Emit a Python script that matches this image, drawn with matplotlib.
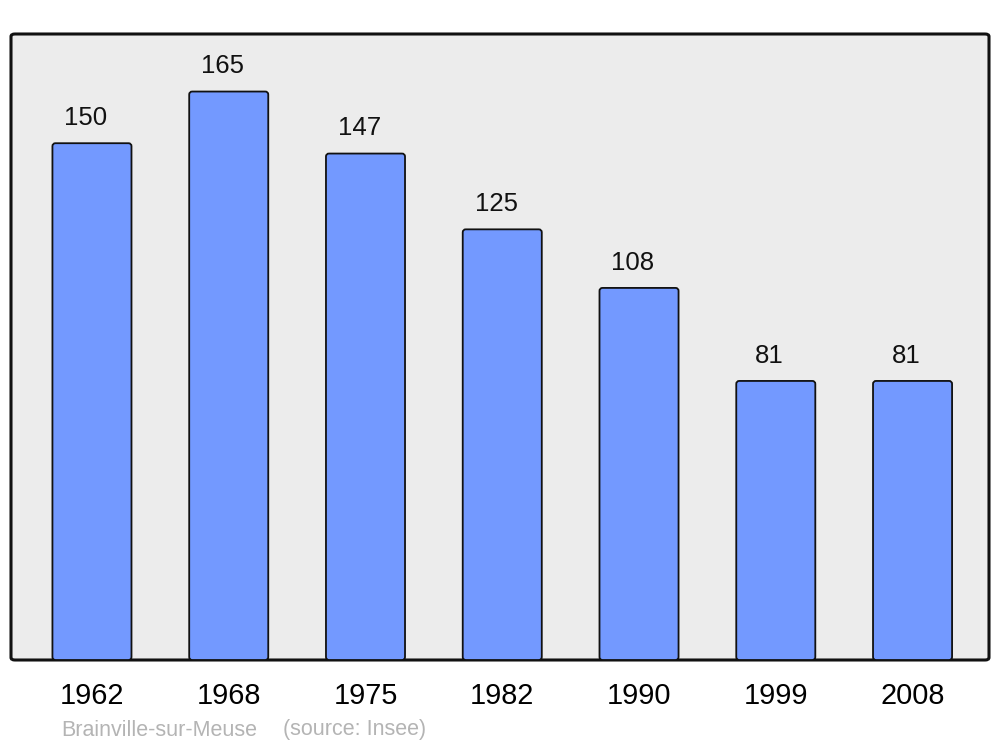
import matplotlib.pyplot as plt
from matplotlib.patches import FancyBboxPatch
import numpy as np

plt.rcParams['font.family'] = ['Liberation Sans', 'DejaVu Sans']

years = ["1962", "1968", "1975", "1982", "1990", "1999", "2008"]
population = [150, 165, 147, 125, 108, 81, 81]

fig = plt.figure(figsize=(10, 7.47), dpi=100)
ax = fig.add_axes([0.011, 87 / 747, 0.978, 626 / 747])
ax.set_facecolor('none')

# rounded grey frame
frame = FancyBboxPatch((0, 0), 1, 1, boxstyle="round,pad=0,rounding_size=0.004",
                       transform=ax.transAxes, facecolor='#ececec',
                       edgecolor='#111111', linewidth=2.2, zorder=0, clip_on=False)
ax.add_patch(frame)

x = np.arange(len(years))
bars = ax.bar(x, population, width=0.578, color='#7399ff', edgecolor='#111111',
              linewidth=1.3, zorder=2)

# swap the plain rectangles for slightly rounded ones
for b in bars:
    rb = FancyBboxPatch((b.get_x(), b.get_y()), b.get_width(), b.get_height(),
                        boxstyle="round,pad=0,rounding_size=0.022",
                        mutation_aspect=39.7, facecolor='#7399ff',
                        edgecolor='#111111', linewidth=1.3, zorder=2)
    ax.add_patch(rb)
    b.set_visible(False)

for xi, v in zip(x, population):
    ax.annotate(str(v), (xi, v), xytext=(-4.5, 9.5), textcoords='offset points',
                ha='center', va='bottom', fontsize=18.5, color='#111111')

ax.set_xlim(-0.592, 6.559)
ax.set_ylim(0, 181.7)
ax.set_xticks(x)
ax.set_xticklabels(years, fontsize=20.8)
ax.tick_params(axis='x', length=0, pad=16)
for lbl in ax.get_xticklabels():
    lbl.set_x(lbl.get_position()[0])
ax.set_yticks([])
for s in ax.spines.values():
    s.set_visible(False)

fig.text(0.061, 17 / 747, "Brainville-sur-Meuse", fontsize=15.5,
         color='#b4b4b4', ha='left', va='center')
fig.text(0.283, 17 / 747, "(source: Insee)", fontsize=15.5,
         color='#b4b4b4', ha='left', va='center')

fig.savefig('out.png', dpi=100)
